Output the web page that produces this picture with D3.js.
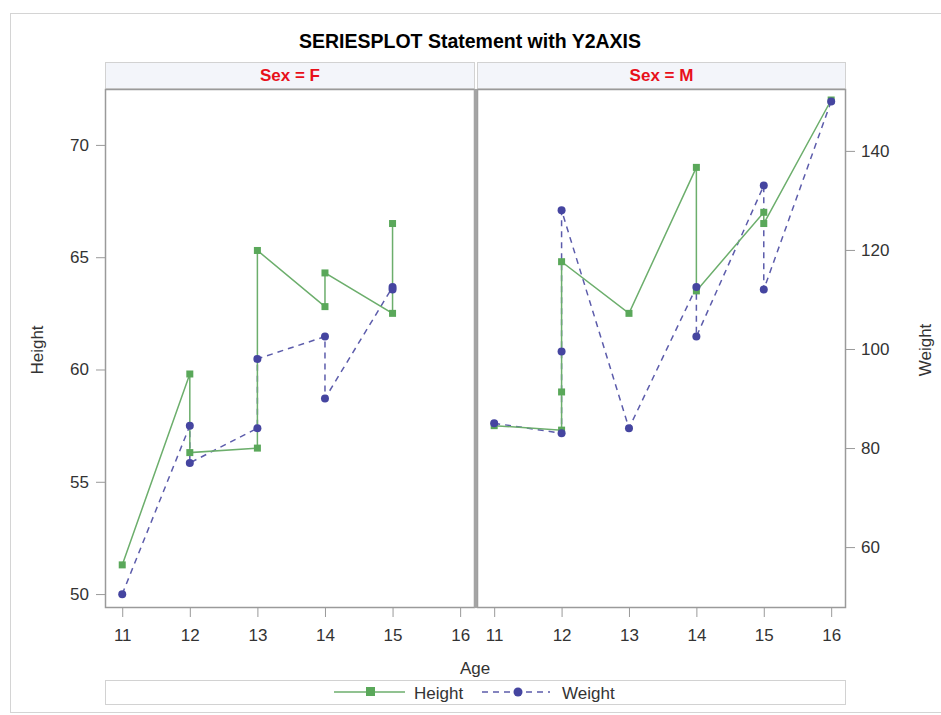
<!DOCTYPE html>
<html>
<head>
<meta charset="utf-8">
<script src="https://cdn.jsdelivr.net/npm/d3@7"></script>
<style>
  body { margin: 0; background: #fff; }
  svg { display: block; font-family: "Liberation Sans", Arial, sans-serif; }
</style>
</head>
<body>
<svg id="chart" width="941" height="715"></svg>
<script>
// Panels (one per sex) and tick labels
const panels = ["F", "M"];
const ageTicks = [11, 12, 13, 14, 15, 16];
const heightTicks = [50, 55, 60, 65, 70];
const weightTicks = [60, 80, 100, 120, 140];

// Students in series order within each panel
const ageF = [11, 12, 12, 13, 13, 14, 14, 15, 15];
const heightF = [51.3, 59.8, 56.3, 56.5, 65.3, 62.8, 64.3, 62.5, 66.5];
const weightF = [50.5, 84.5, 77.0, 84.0, 98.0, 102.5, 90.0, 112.5, 112.0];

const ageM = [11, 12, 12, 12, 13, 14, 14, 15, 15, 16];
const heightM = [57.5, 57.3, 59.0, 64.8, 62.5, 69.0, 63.5, 67.0, 66.5, 72.0];
const weightM = [85.0, 83.0, 99.5, 128.0, 84.0, 112.5, 102.5, 133.0, 112.0, 150.0];

const panelData = {
  F: { age: ageF, height: heightF, weight: weightF },
  M: { age: ageM, height: heightM, weight: weightM }
};

const green = "#5aa85a";
const greenLine = "#6cae6c";
const blue = "#4545a0";
const blueLine = "#5c5cab";
const axisGray = "#9a9a9a";
const textCol = "#333";
const fontFam = "Liberation Sans, Arial, sans-serif";

const svg = d3.select("#chart");

// Outer frame
svg.append("rect").attr("x", 10.5).attr("y", 13.5).attr("width", 940).attr("height", 699)
  .attr("fill", "none").attr("stroke", "#d4d4d4");

// Title
svg.append("text").attr("x", 470).attr("y", 48).attr("text-anchor", "middle")
  .attr("font-size", 19.5).attr("font-weight", "bold").attr("fill", "#000")
  .text("SERIESPLOT Statement with Y2AXIS");

const plotTop = 89, plotBottom = 608;
const panelX = [[105, 475], [477, 846]];

const y = d3.scaleLinear().domain([49.38, 72.49]).range([plotBottom, plotTop]);
const y2 = d3.scaleLinear().domain([47.7, 152.5]).range([plotBottom, plotTop]);

panels.forEach((sex, i) => {
  const [x0, x1] = panelX[i];
  const x = d3.scaleLinear().domain([10.745, 16.22]).range([x0, x1]);
  const d = panelData[sex];
  const g = svg.append("g");

  // Header strip
  g.append("rect").attr("x", x0 + 0.5).attr("y", 62.5).attr("width", x1 - x0 - 1).attr("height", 26)
    .attr("fill", "#f3f5fa").attr("stroke", "#d2d2d2");
  g.append("text").attr("x", (x0 + x1) / 2).attr("y", 80.5).attr("text-anchor", "middle")
    .attr("font-size", 17).attr("font-weight", "bold").attr("fill", "#e8101a")
    .text("Sex = " + sex);

  // Panel frame
  g.append("rect").attr("x", x0 + 0.5).attr("y", plotTop + 0.5).attr("width", x1 - x0 - 1).attr("height", plotBottom - plotTop - 1)
    .attr("fill", "#fff").attr("stroke", axisGray).attr("stroke-width", 1.5);

  // X axis
  const xAxis = d3.axisBottom(x).tickValues(ageTicks).tickFormat(d3.format("d")).tickSize(9).tickPadding(12);
  const xa = g.append("g").attr("transform", `translate(0,${plotBottom})`).call(xAxis);
  xa.select(".domain").remove();
  xa.selectAll(".tick line").attr("stroke", axisGray);
  xa.selectAll(".tick text").attr("font-size", 17).attr("fill", textCol).attr("font-family", fontFam);

  // Weight series (dashed, circles)
  const pts = d.age.map((a, k) => ({ a, h: d.height[k], w: d.weight[k] }));
  g.append("path").datum(pts)
    .attr("d", d3.line().x(p => x(p.a)).y(p => y2(p.w)))
    .attr("fill", "none").attr("stroke", blueLine).attr("stroke-width", 1.5).attr("stroke-dasharray", "6,5");

  // Height series (solid, squares)
  g.append("path").datum(pts)
    .attr("d", d3.line().x(p => x(p.a)).y(p => y(p.h)))
    .attr("fill", "none").attr("stroke", greenLine).attr("stroke-width", 1.5);

  g.selectAll(".hm").data(pts).enter().append("rect")
    .attr("x", p => x(p.a) - 3.5).attr("y", p => y(p.h) - 3.5)
    .attr("width", 7).attr("height", 7).attr("fill", green);

  g.selectAll(".wm").data(pts).enter().append("circle")
    .attr("cx", p => x(p.a)).attr("cy", p => y2(p.w)).attr("r", 4).attr("fill", blue);
});

// Divider between the two panels
svg.append("rect").attr("x", 474).attr("y", plotTop).attr("width", 3.5).attr("height", plotBottom - plotTop)
  .attr("fill", "#a4a4a4");

// Left Y axis (Height)
const yAxis = d3.axisLeft(y).tickValues(heightTicks).tickSize(9).tickPadding(7);
const ya = svg.append("g").attr("transform", "translate(105,0)").call(yAxis);
ya.select(".domain").remove();
ya.selectAll(".tick line").attr("stroke", axisGray);
ya.selectAll(".tick text").attr("font-size", 17).attr("fill", textCol).attr("font-family", fontFam);

// Right Y axis (Weight)
const y2Axis = d3.axisRight(y2).tickValues(weightTicks).tickSize(9).tickPadding(6);
const y2a = svg.append("g").attr("transform", "translate(846,0)").call(y2Axis);
y2a.select(".domain").remove();
y2a.selectAll(".tick line").attr("stroke", axisGray);
y2a.selectAll(".tick text").attr("font-size", 17).attr("fill", textCol).attr("font-family", fontFam);

// Axis titles
svg.append("text").attr("transform", "translate(43,350) rotate(-90)").attr("text-anchor", "middle")
  .attr("font-size", 17).attr("fill", textCol).text("Height");
svg.append("text").attr("transform", "translate(931,350) rotate(-90)").attr("text-anchor", "middle")
  .attr("font-size", 17).attr("fill", textCol).text("Weight");
svg.append("text").attr("x", 475).attr("y", 674).attr("text-anchor", "middle")
  .attr("font-size", 17).attr("fill", textCol).text("Age");

// Legend
svg.append("rect").attr("x", 105.5).attr("y", 680.5).attr("width", 740).attr("height", 24)
  .attr("fill", "#fff").attr("stroke", "#d2d2d2");
const lg = svg.append("g");
lg.append("line").attr("x1", 334).attr("x2", 405).attr("y1", 692).attr("y2", 692)
  .attr("stroke", greenLine).attr("stroke-width", 1.5);
lg.append("rect").attr("x", 366).attr("y", 687).attr("width", 9).attr("height", 9).attr("fill", green);
lg.append("text").attr("x", 414).attr("y", 698.5).attr("font-size", 17).attr("fill", textCol).text("Height");
lg.append("line").attr("x1", 482).attr("x2", 550).attr("y1", 692).attr("y2", 692)
  .attr("stroke", blueLine).attr("stroke-width", 1.5).attr("stroke-dasharray", "6,5");
lg.append("circle").attr("cx", 518).attr("cy", 692).attr("r", 4.5).attr("fill", blue);
lg.append("text").attr("x", 562).attr("y", 698.5).attr("font-size", 17).attr("fill", textCol).text("Weight");
</script>
</body>
</html>
